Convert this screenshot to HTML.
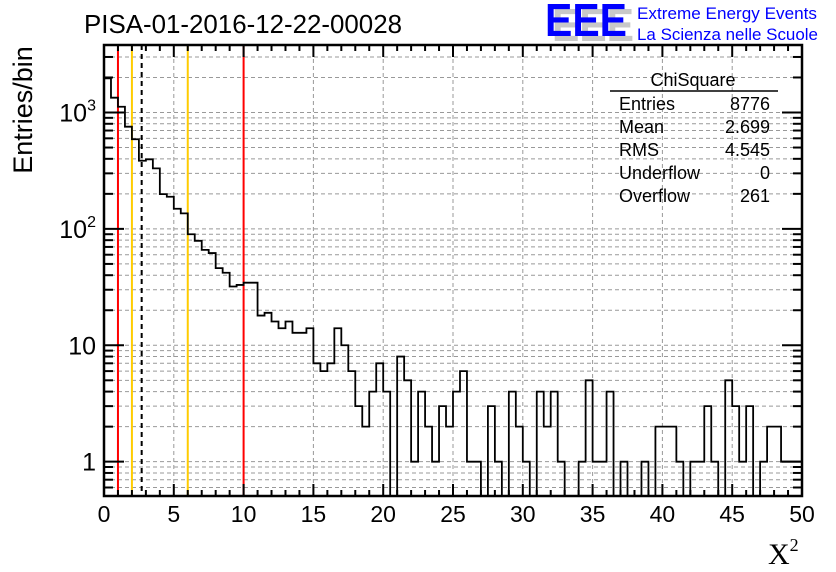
<!DOCTYPE html>
<html><head><meta charset="utf-8"><style>
body{margin:0;background:#fff;}
svg{display:block;font-family:"Liberation Sans",sans-serif;}
</style></head><body>
<svg id="chart" width="836" height="572" viewBox="0 0 836 572" xmlns="http://www.w3.org/2000/svg">
<rect width="836" height="572" fill="#fff"/>
<g id="grid"></g>
<g id="vlines"></g>
<g id="hist"></g>
<g id="axes"></g>
<text x="243" y="33" font-size="26" text-anchor="middle" textLength="318" lengthAdjust="spacingAndGlyphs">PISA-01-2016-12-22-00028</text>
<g>
<text x="552" y="41" font-size="46" font-weight="bold" fill="#c8c8c8" textLength="82" lengthAdjust="spacingAndGlyphs">EEE</text>
<text x="545" y="36" font-size="46" font-weight="bold" fill="#0000ff" textLength="82" lengthAdjust="spacingAndGlyphs">EEE</text>
<text x="637" y="19" font-size="17" fill="#0000ff" textLength="180" lengthAdjust="spacingAndGlyphs">Extreme Energy Events</text>
<text x="637" y="40" font-size="17" fill="#0000ff" textLength="181" lengthAdjust="spacingAndGlyphs">La Scienza nelle Scuole</text>
</g>
<g>
<text x="693" y="86" font-size="18" text-anchor="middle">ChiSquare</text>
<line x1="610" y1="91" x2="778" y2="91" stroke="#000" stroke-width="1.5"/>
<text x="619" y="110" font-size="18">Entries</text><text x="770" y="110" font-size="18" text-anchor="end">8776</text>
<text x="619" y="133" font-size="18">Mean</text><text x="770" y="133" font-size="18" text-anchor="end">2.699</text>
<text x="619" y="156" font-size="18">RMS</text><text x="770" y="156" font-size="18" text-anchor="end">4.545</text>
<text x="619" y="179" font-size="18">Underflow</text><text x="770" y="179" font-size="18" text-anchor="end">0</text>
<text x="619" y="202" font-size="18">Overflow</text><text x="770" y="202" font-size="18" text-anchor="end">261</text>
</g>
<text transform="translate(32,110) rotate(-90)" font-size="27" text-anchor="middle">Entries/bin</text>
<text x="768" y="564" font-size="30" font-family="Liberation Serif,serif">X<tspan font-size="18" dy="-13">2</tspan></text>
</svg>
<script>
const binCounts = [1967,1340,1120,755,589,385,396,331,199,189,149,136,90,79,66,62,46,42,32,33,
34.5,34.5,18,19,16,14,16,12.8,12.8,14,7,6,7,14,10,6,3,2,4,7,
4,0,8,5,1,4,2,1,3,2,4,6,1,1,0,3,1,0,4,2,
1,0,4,2,4,1,0,0,1,5,1,1,4,0,1,0,0,1,0,2,
2,2,1,0,1,1,3,1,0,5,3,1,3,0,1,2,2,1,1,1];
const xTicks = [0,5,10,15,20,25,30,35,40,45,50];
const yDecades = [1,10,100,1000];
const markerLines = [{x:1,c:"#ff0000",d:""},{x:2,c:"#ffcc00",d:""},{x:2.699,c:"#000",d:"5,4"},{x:6,c:"#ffcc00",d:""},{x:10,c:"#ff0000",d:""}];
const L=104,R=802,T=45,B=496,XMIN=0,XMAX=50,BINW=0.5;
const LOGMIN=Math.log10(0.507),LOGMAX=3.58;
const sx=v=>L+(v-XMIN)/(XMAX-XMIN)*(R-L);
const sy=v=>B-(Math.log10(v)-LOGMIN)/(LOGMAX-LOGMIN)*(B-T);
const NS="http://www.w3.org/2000/svg";
function mk(tag,attrs,parent){const e=document.createElementNS(NS,tag);for(const k in attrs)e.setAttribute(k,attrs[k]);parent.appendChild(e);return e;}
const grid=document.getElementById('grid'),axes=document.getElementById('axes'),hist=document.getElementById('hist'),vl=document.getElementById('vlines');
xTicks.forEach(v=>{if(v>XMIN&&v<XMAX){const g=mk('line',{x1:sx(v),x2:sx(v),y1:T,y2:B,stroke:'#999','stroke-dasharray':'4,3','stroke-width':1},grid);

}});
yDecades.concat([0.1]).forEach(d=>{for(let m=1;m<=9;m++){const v=d*m;const y=sy(v);if(y>T+1&&y<B-1){
const g=mk('line',{x1:L,x2:R,y1:y,y2:y,stroke:'#999','stroke-dasharray':'4,3','stroke-width':1},grid);


const lt=m===1?20:9;
const t1=mk('line',{x1:L,x2:L+lt,y1:y,y2:y,stroke:'#000','stroke-width':2},axes);


const t2=mk('line',{x1:R,x2:R-lt,y1:y,y2:y,stroke:'#000','stroke-width':2},axes);

}}});
markerLines.forEach(m=>{const e=mk('line',{x1:sx(m.x),x2:sx(m.x),y1:T,y2:B,stroke:m.c,'stroke-width':2,'stroke-dasharray':m.d},vl);

});
let d='';
binCounts.forEach((c,i)=>{const x0=sx(i*BINW),x1=sx((i+1)*BINW);const y=c>0?Math.max(T,sy(c)):B;
if(i===0)d+=`M${x0},${y}`;else d+=`L${x0},${y}`;d+=`L${x1},${y}`;});
const p=mk('path',{d:d,fill:'none',stroke:'#000','stroke-width':1.8},hist);


for(let v=XMIN;v<=XMAX;v++){const major=v%5===0;const lt=major?12:6;const x=sx(v);
const a=mk('line',{x1:x,x2:x,y1:B,y2:B-lt,stroke:'#000','stroke-width':2},axes);


const b=mk('line',{x1:x,x2:x,y1:T,y2:T+lt,stroke:'#000','stroke-width':2},axes);

}
xTicks.forEach(v=>{const t=mk('text',{x:sx(v),y:522,'font-size':23,'text-anchor':'middle'},axes);t.textContent=v;

});
yDecades.forEach(v=>{const y=sy(v);const t=mk('text',{x:96,y:y+9,'font-size':25,'text-anchor':'end'},axes);
if(v>=100){t.textContent='10';const s=mk('tspan',{'font-size':16,dy:-11},t);s.textContent=Math.round(Math.log10(v));}else t.textContent=v;

});
const fr=mk('rect',{x:L,y:T,width:R-L,height:B-T,fill:'none',stroke:'#000','stroke-width':2.5},axes);


</script>
</body></html>
